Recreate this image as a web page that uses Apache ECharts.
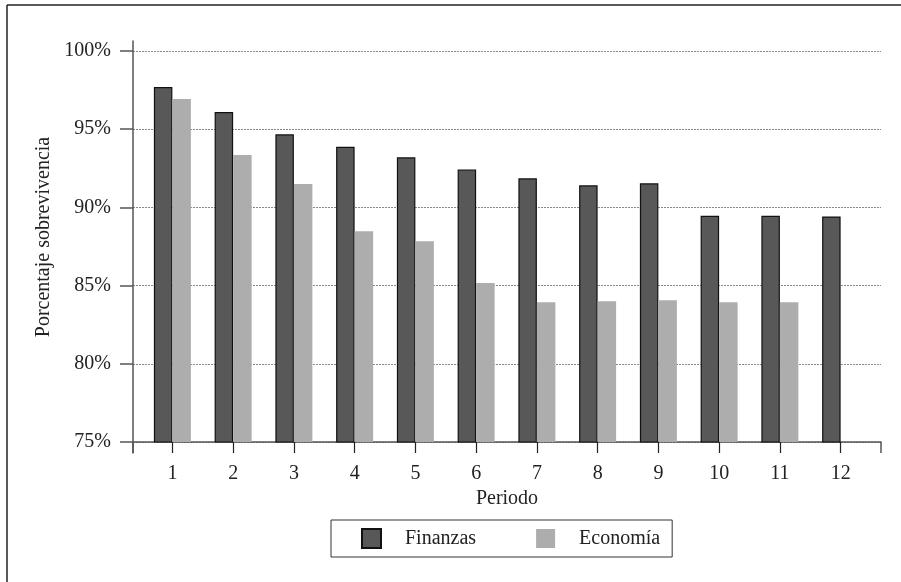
<!DOCTYPE html>
<html>
<head>
<meta charset="utf-8">
<script src="https://cdn.jsdelivr.net/npm/echarts@6/dist/echarts.min.js"></script>
<style>html,body{margin:0;padding:0;background:#fff;overflow:hidden;}#c{width:901px;height:582px;}</style>
</head>
<body>
<div id="c"></div>
<script>
var categories = ['1','2','3','4','5','6','7','8','9','10','11','12'];
var finanzas = [97.70, 96.10, 94.67, 93.88, 93.20, 92.43, 91.86, 91.41, 91.54, 89.46, 89.46, 89.42];
var economia = [96.93, 93.35, 91.49, 88.48, 87.84, 85.16, 83.94, 84.00, 84.07, 83.94, 83.94, null];
var yMin = 75, yMax = 100, yStep = 5;
var seriesNames = ['Finanzas', 'Economía'];
var xTitle = 'Periodo';
var yTitle = 'Porcentaje sobrevivencia';

var FONT = 'Liberation Serif';
var FS = 20;
var AXIS = '#555';
var chart = echarts.init(document.getElementById('c'), null, {renderer: 'canvas'});
chart.setOption({
  backgroundColor: '#fff',
  animation: false,
  textStyle: {fontFamily: FONT},
  graphic: [
    {type: 'line', silent: true, shape: {x1: 7, y1: 5, x2: 7, y2: 582}, style: {stroke: '#222', lineWidth: 1.5}},
    {type: 'line', silent: true, shape: {x1: 7, y1: 5, x2: 901, y2: 5}, style: {stroke: '#222', lineWidth: 1.5}}
  ],
  grid: [
    {left: 133, right: 20, top: 51, bottom: 140},
    {left: 142, right: 30, top: 51, bottom: 140},
    {left: 133, right: 20, top: 41, bottom: 129}
  ],
  xAxis: [
    {
      gridIndex: 0, type: 'value', min: 0, max: 1, interval: 1,
      name: xTitle, nameLocation: 'middle', nameGap: 47,
      nameTextStyle: {fontFamily: FONT, fontSize: FS, color: '#222'},
      axisLine: {show: true, lineStyle: {color: AXIS, width: 1.5}},
      axisTick: {show: true, length: 11, lineStyle: {color: AXIS, width: 1.5}},
      axisLabel: {show: false},
      splitLine: {show: false}
    },
    {
      gridIndex: 1, type: 'category', data: categories,
      axisLine: {show: false},
      axisTick: {show: true, alignWithLabel: true, length: 11, lineStyle: {color: '#222', width: 1.2}},
      axisLabel: {fontFamily: FONT, fontSize: FS, color: '#222', margin: 22},
      splitLine: {show: false}
    },
    {gridIndex: 2, type: 'value', show: false, min: 0, max: 1}
  ],
  yAxis: [
    {
      gridIndex: 0, type: 'value', min: yMin, max: yMax, interval: yStep,
      name: yTitle, nameLocation: 'middle', nameRotate: 90, nameGap: 75,
      nameTextStyle: {fontFamily: FONT, fontSize: FS, color: '#222', padding: [0, 0, 0, 19]},
      axisLine: {show: false},
      axisTick: {show: true, length: 13, lineStyle: {color: AXIS, width: 1.5}},
      axisLabel: {fontFamily: FONT, fontSize: FS, color: '#222', margin: 22, formatter: '{value}%'},
      splitLine: {show: true, lineStyle: {color: '#888', type: [2, 1], width: 1}}
    },
    {gridIndex: 1, type: 'value', min: yMin, max: yMax, show: false},
    {
      gridIndex: 2, type: 'value', min: 0, max: 1, position: 'left',
      axisLine: {show: true, lineStyle: {color: AXIS, width: 1.5}},
      axisTick: {show: false}, axisLabel: {show: false}, splitLine: {show: false}
    }
  ],
  legend: {
    left: 331, top: 520, orient: 'horizontal',
    padding: [8, 12, 8, 30],
    itemWidth: 19, itemHeight: 19, itemGap: 60,
    borderColor: '#333', borderWidth: 1,
    icon: 'rect',
    textStyle: {fontFamily: FONT, fontSize: FS, color: '#222', padding: [0, 0, 0, 19]},
    data: seriesNames
  },
  series: [
    {
      name: seriesNames[0], type: 'bar', xAxisIndex: 1, yAxisIndex: 1,
      data: finanzas, barWidth: 18.5, barGap: '0%',
      itemStyle: {color: '#585858', borderColor: '#111', borderWidth: 1.2}
    },
    {
      name: seriesNames[1], type: 'bar', xAxisIndex: 1, yAxisIndex: 1,
      data: economia, barWidth: 18.5, barGap: '0%',
      itemStyle: {color: '#adadad'}
    }
  ]
});
</script>
</body>
</html>
